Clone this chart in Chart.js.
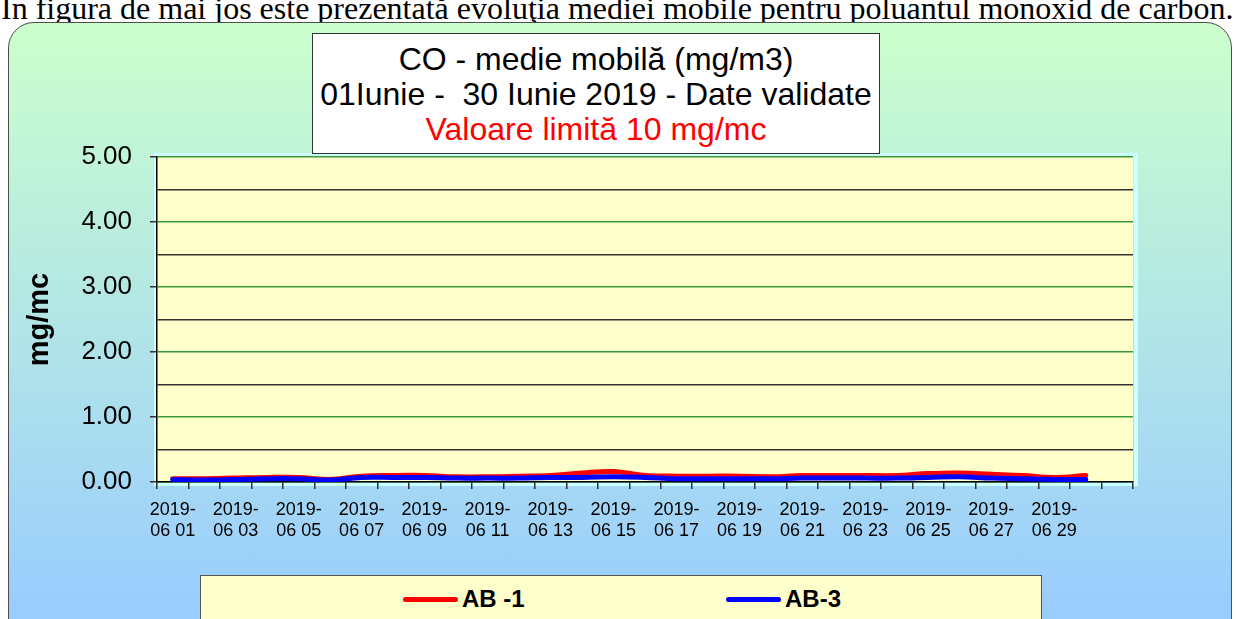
<!DOCTYPE html>
<html>
<head>
<meta charset="utf-8">
<script src="https://cdn.jsdelivr.net/npm/chart.js@4"></script>
<style>
  body { margin: 0; width: 1236px; height: 619px; overflow: hidden; background: #fff; position: relative; }
  #intro { position: absolute; left: 1px; top: -8px; white-space: nowrap; font: 32px "Liberation Serif", "Times New Roman", serif; line-height: 32px; color: #000; }
  #frame { position: absolute; left: 8px; top: 22px; width: 1222px; height: 640px; border: 1.5px solid #4d4d4d; border-radius: 26px;
           background: linear-gradient(#ccffcc, #99ccff 93%); }
  #titlebox { position: absolute; left: 312px; top: 33px; width: 566px; height: 111px; background: #fff; border: 1px solid #333;
              text-align: center; font: 32px "Liberation Sans", Arial, sans-serif; line-height: 35px; padding-top: 8px; box-sizing: content-box; }
  #titlebox .red { color: #ff0000; }
  #chart { position: absolute; left: 0; top: 0; }
  #legend { position: absolute; left: 200px; top: 575px; width: 840px; height: 60px; background: #ffffcc; border: 1.5px solid #555; }
  .lg-item { position: absolute; top: 10px; height: 26px; }
  .lg-line { position: absolute; top: 11px; width: 55px; height: 5px; border-radius: 3px; }
  .lg-text { position: absolute; left: 59px; top: 0; font: bold 24px "Liberation Sans Narrow", "Liberation Sans", Arial, sans-serif; white-space: nowrap; line-height: 26px; }
</style>
</head>
<body>
<div id="intro">In figura de mai jos este prezentată evoluţia mediei mobile pentru poluantul monoxid de carbon.</div>
<div id="frame"></div>
<canvas id="chart" width="1236" height="619"></canvas>
<div id="titlebox">
  <div>CO - medie mobilă (mg/m3)</div>
  <div>01Iunie -&nbsp; 30 Iunie 2019 - Date validate</div>
  <div class="red">Valoare limită 10 mg/mc</div>
</div>
<div id="legend"></div>

<script>
// zilele din iunie + o categorie goala la capat
const days = ["01","02","03","04","05","06","07","08","09","10","11","12","13","14","15",
              "16","17","18","19","20","21","22","23","24","25","26","27","28","29","30"];
const labels = days.map(d => ["2019-", "06 " + d]).concat([""]);

const ab1 = [0.05, 0.05, 0.06, 0.07, 0.07, 0.04, 0.09, 0.10, 0.10, 0.08, 0.08, 0.09, 0.10, 0.14, 0.16,
             0.10, 0.09, 0.09, 0.09, 0.08, 0.10, 0.10, 0.10, 0.10, 0.13, 0.14, 0.12, 0.10, 0.07, 0.10];
const ab3 = [0.04, 0.03, 0.04, 0.05, 0.05, 0.03, 0.07, 0.07, 0.07, 0.06, 0.06, 0.06, 0.07, 0.07, 0.08,
             0.07, 0.05, 0.05, 0.05, 0.05, 0.06, 0.06, 0.06, 0.06, 0.07, 0.08, 0.06, 0.05, 0.04, 0.04];

const yMin = 0, yMax = 5, yStep = 0.5;

const isWhole = v => Math.abs(v % 1) < 1e-6;

// fundal galben + chenar cyan pentru zona graficului
const plotBg = {
  id: "plotBg",
  beforeDraw(chart) {
    const a = chart.chartArea;
    const c = chart.ctx;
    c.save();
    c.fillStyle = "#ffffcc";
    c.fillRect(a.left, a.top, a.width, a.height);
    c.strokeStyle = "#ccffff";
    c.lineWidth = 4;
    c.strokeRect(a.left - 1, a.top - 2, a.width + 4, a.height + 4);
    c.restore();
  }
};

const chart = new Chart(document.getElementById("chart"), {
  type: "line",
  data: {
    labels: labels,
    datasets: [
      { label: "AB -1", data: ab1, borderColor: "#ff0000", backgroundColor: "#ff0000", order: 1 },
      { label: "AB-3", data: ab3, borderColor: "#0000ff", backgroundColor: "#0000ff", order: 0 }
    ]
  },
  options: {
    responsive: false,
    animation: false,
    devicePixelRatio: 1,
    layout: { padding: { left: 0, top: 157, right: 103, bottom: 0 } },
    elements: {
      line: { borderWidth: 5, tension: 0.4, borderCapStyle: "round", borderJoinStyle: "round" },
      point: { radius: 0 }
    },
    plugins: { legend: { display: false }, tooltip: { enabled: false } },
    scales: {
      x: {
        offset: true,
        grid: { offset: true, drawOnChartArea: false, drawTicks: true, tickLength: 7, tickColor: "#333", lineWidth: 1.5 },
        border: { color: "#000", width: 1.5 },
        ticks: {
          autoSkip: false, maxRotation: 0, minRotation: 0, padding: 10, color: "#000",
          font: { family: "'Liberation Sans', Arial, sans-serif", size: 18 },
          callback: function (val, i) {
            return (i % 2 === 0 && i < days.length) ? this.getLabelForValue(val) : "";
          }
        },
        afterFit(scale) { scale.height = 137; }
      },
      y: {
        min: yMin, max: yMax,
        grid: {
          color: ctx => (ctx.tick && isWhole(ctx.tick.value)) ? "#3a9a3a" : "#333",
          tickColor: ctx => (ctx.tick && isWhole(ctx.tick.value)) ? "#333" : "rgba(0,0,0,0)",
          lineWidth: 1.5, tickLength: 7
        },
        border: { color: "#000", width: 1.5 },
        ticks: {
          stepSize: yStep, autoSkip: false, padding: 18, color: "#000",
          font: { family: "'Liberation Sans', Arial, sans-serif", size: 26 },
          callback: v => isWhole(v) ? v.toFixed(2) : ""
        },
        title: {
          display: true, text: "mg/mc", color: "#000",
          font: { family: "'Liberation Sans', Arial, sans-serif", size: 29, weight: "bold" },
          padding: { top: 23, bottom: 0 }
        },
        afterFit(scale) { scale.width = 157; }
      }
    }
  },
  plugins: [plotBg]
});

// legenda in caseta galbena, din seriile graficului
const legend = document.getElementById("legend");
const legendX = [202, 525];
chart.data.datasets.forEach((ds, i) => {
  const item = document.createElement("div");
  item.className = "lg-item";
  item.style.left = legendX[i] + "px";
  item.innerHTML = '<div class="lg-line" style="background:' + ds.borderColor + '"></div>' +
                   '<div class="lg-text">' + ds.label + '</div>';
  legend.appendChild(item);
});
</script>
</body>
</html>
